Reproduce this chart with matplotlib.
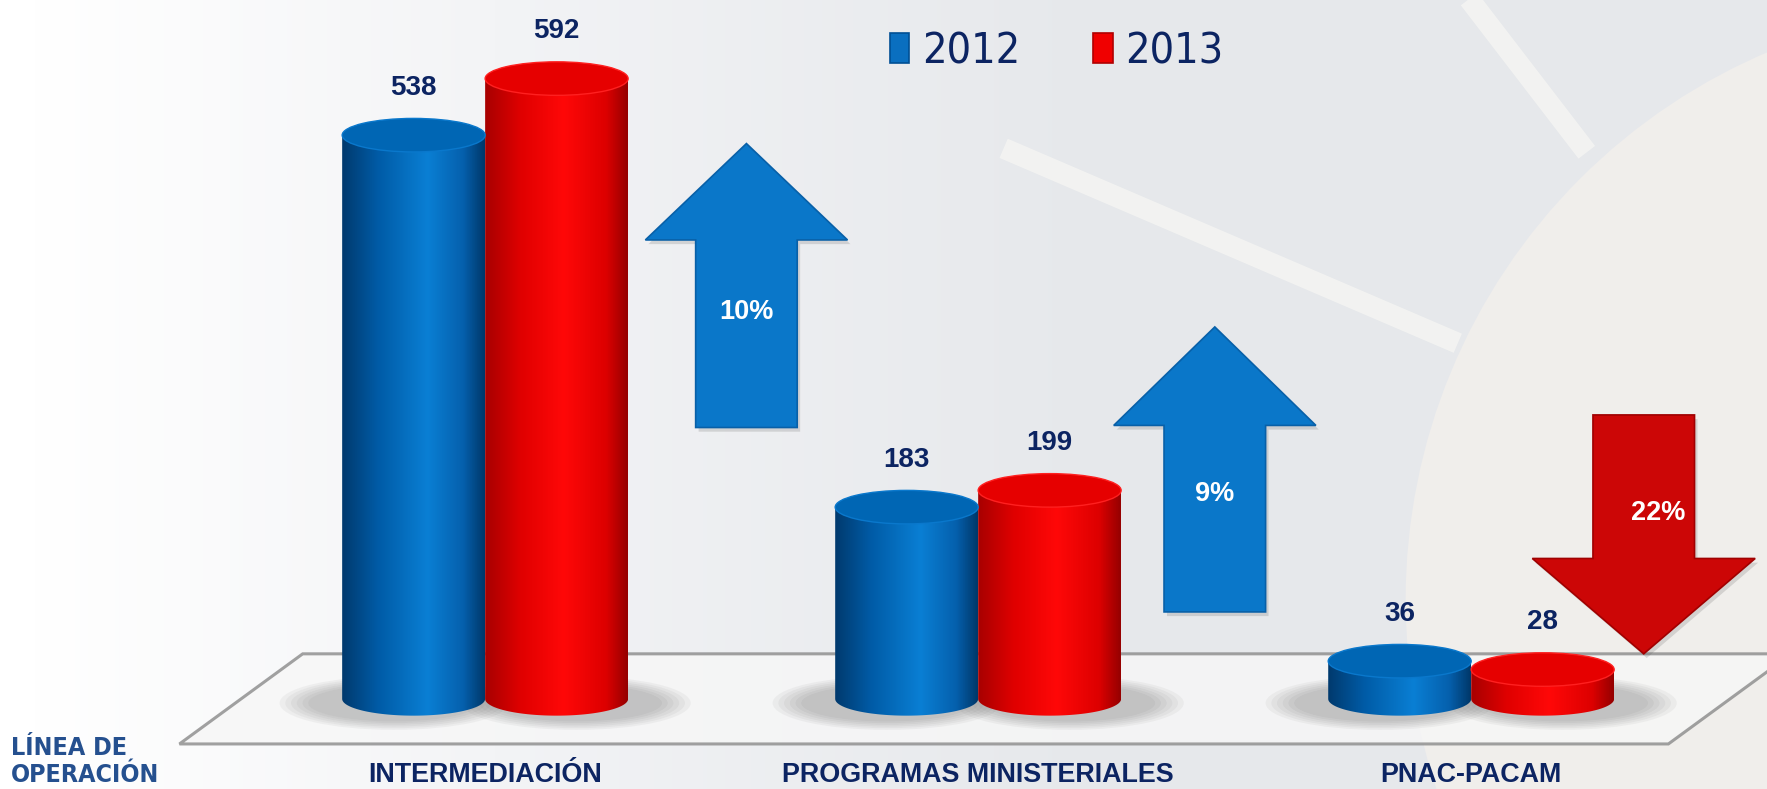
import numpy as np
import matplotlib
matplotlib.use("Agg")
import matplotlib.pyplot as plt
from matplotlib.patches import Polygon, Ellipse, Rectangle
from matplotlib.colors import LinearSegmentedColormap
from matplotlib import font_manager
from matplotlib.font_manager import FontProperties

# data
categories = ["INTERMEDIACIÓN", "PROGRAMAS MINISTERIALES", "PNAC-PACAM"]
years = ["2012", "2013"]
values_2012 = [538, 183, 36]
values_2013 = [592, 199, 28]

NAVY = "#0c2462"
BLUE_ARROW = "#0a77c9"
RED_ARROW = "#cc0606"

plt.rcParams["font.family"] = ["Liberation Sans", "DejaVu Sans"]


def narrow_font(bold, size):
    # look for any condensed / narrow face, else a plain one a bit smaller
    cands = [f for f in font_manager.fontManager.ttflist
             if ("Narrow" in f.name or "Condensed" in f.name
                 or f.stretch in ("condensed", "semi-condensed", "extra-condensed"))
             and f.style == "normal"]
    wanted = [f for f in cands if (f.weight in ("bold", 700, "700")) == bold]
    if wanted:
        return FontProperties(fname=wanted[0].fname, size=size)
    if cands:
        return FontProperties(fname=cands[0].fname, size=size)
    return FontProperties(family="Liberation Sans", weight="bold" if bold else "normal",
                          size=size * 0.85)


blue_cmap = LinearSegmentedColormap.from_list(
    "b", [(0, "#003a6e"), (0.25, "#005ba6"), (0.6, "#0a7fd4"), (0.85, "#0560ad"), (1, "#00386a")])
red_cmap = LinearSegmentedColormap.from_list(
    "r", [(0, "#a80000"), (0.25, "#e00000"), (0.55, "#ff0808"), (0.85, "#dd0000"), (1, "#960000")])

fig = plt.figure(figsize=(17.67, 7.89), dpi=100)

# background
bg = fig.add_axes([0, 0, 1, 1], zorder=0)
gx = np.linspace(0, 1, 400)
white = np.array([1.0, 1.0, 1.0])
light = np.array([0.94, 0.945, 0.955])
grey = np.array([0.905, 0.913, 0.925])
img = np.ones((10, 400, 3))
for j, v in enumerate(gx):
    if v < 0.35:
        a = np.clip((v - 0.02) / 0.33, 0, 1)
        col = white * (1 - a) + light * a
    else:
        a = np.clip((v - 0.35) / 0.25, 0, 1)
        col = light * (1 - a) + grey * a
    img[:, j, :] = col
bg.imshow(img, extent=(0, 1, 0, 1), aspect="auto")
bg.add_patch(Ellipse((1.132, 0.240), 0.673, 1.508, facecolor="#f0eeeb", edgecolor="none"))
bg.plot([0.568, 0.825], [0.812, 0.565], color="#f4f4f2", lw=15, alpha=0.9,
        solid_capstyle="butt")
bg.plot([0.825, 0.898], [1.02, 0.807], color="#f4f4f2", lw=15, alpha=0.9,
        solid_capstyle="butt")
bg.set_xlim(0, 1)
bg.set_ylim(0, 1)
bg.axis("off")

ax = fig.add_axes([0, 0, 1, 1], zorder=1)
ax.patch.set_alpha(0)
ax.axis("off")

x = np.arange(len(categories))
w = 0.29
eh = 32

# floor
floor = Polygon([(-0.62, -43), (2.40, -43), (2.65, 43), (-0.37, 43)], closed=True,
                facecolor="#f7f7f7", edgecolor="#8a8a8a", lw=2.2, alpha=0.8, zorder=1)
ax.add_patch(floor)


def cylinder(xc, h, cmap, top_color, top_edge, shadow_dx):
    xl, xr = xc - w / 2, xc + w / 2
    # soft shadow on the floor
    for k in range(6):
        ax.add_patch(Ellipse((xc + shadow_dx, -4), w * (1.2 + 0.08 * k), eh * (1.1 + 0.1 * k),
                             facecolor="#505050", edgecolor="none", alpha=0.055, zorder=2))
    t = np.linspace(np.pi, 2 * np.pi, 80)
    verts = [(xl, h), (xl, 0)]
    verts += list(zip(xc + w / 2 * np.cos(t), eh / 2 * np.sin(t)))
    verts += [(xr, 0), (xr, h)]
    body = Polygon(verts, closed=True, facecolor="none", edgecolor="none", zorder=3)
    ax.add_patch(body)
    gimg = np.linspace(0, 1, 200).reshape(1, -1)
    im = ax.imshow(gimg, extent=(xl, xr, -eh / 2, h), aspect="auto", cmap=cmap, zorder=3)
    im.set_clip_path(body)
    ax.add_patch(Ellipse((xc, h), w, eh, facecolor=top_color, edgecolor=top_edge, lw=1, zorder=4))


for i in range(len(categories)):
    cylinder(x[i] - w / 2, values_2012[i], blue_cmap, "#0066b4", "#0a78cc", -0.04)
    cylinder(x[i] + w / 2, values_2013[i], red_cmap, "#e60000", "#ff2020", 0.04)
    for off, v in [(-w / 2, values_2012[i]), (w / 2, values_2013[i])]:
        ax.annotate(str(v), (x[i] + off, v + eh / 2), xytext=(0, 22), textcoords="offset points",
                    ha="center", va="center", fontsize=20, fontweight="bold", color=NAVY, zorder=6)
    ax.text(x[i], -85.5, categories[i], ha="center", va="bottom", fontsize=19.4,
            fontweight="bold", color=NAVY, zorder=6)

fp_side = narrow_font(True, 18)
ax.text(-0.962, -60, "LÍNEA DE\nOPERACIÓN", ha="left", va="center", fontproperties=fp_side,
        color="#25508f", linespacing=1.15, zorder=6)

# change arrows (layout: x offset from category, base, head start, tip, label y)
arrow_layout = [
    (0.53, 259, 438, 530, 369),
    (0.48, 83, 261, 355, 196),
    (0.35, 271, 134, 43, 177),
]
for i in range(len(categories)):
    pct = (values_2013[i] - values_2012[i]) / values_2012[i] * 100
    dx, y0, yh, ytip, ylab = arrow_layout[i]
    xc = x[i] + dx
    sw, hw = 0.103, 0.205 if pct > 0 else 0.226
    color = BLUE_ARROW if pct > 0 else RED_ARROW
    edge = "#0860a8" if pct > 0 else "#a00000"
    poly = [(xc - sw, y0), (xc + sw, y0), (xc + sw, yh), (xc + hw, yh), (xc, ytip),
            (xc - hw, yh), (xc - sw, yh)]
    shadow = [(px + 0.006, py - 4) for px, py in poly]
    ax.add_patch(Polygon(shadow, closed=True, facecolor="#505050", alpha=0.18,
                         edgecolor="none", zorder=4))
    ax.add_patch(Polygon(poly, closed=True, facecolor=color, edgecolor=edge, lw=1.2, zorder=5))
    ax.text(xc + (0.03 if pct < 0 else 0), ylab, f"{abs(round(pct))}%", ha="center",
            va="center", fontsize=19.5, fontweight="bold", color="white", zorder=6)

ax.set_xlim(-0.984, 2.600)
ax.set_ylim(-86, 667)

# legend
fp_leg = narrow_font(False, 31)
handles = [Rectangle((0, 0), 1, 1, facecolor="#0a6fc0", edgecolor="#004f94", lw=1.2),
           Rectangle((0, 0), 1, 1, facecolor="#f00000", edgecolor="#b00000", lw=1.2)]
leg = fig.legend(handles, years, loc="center", bbox_to_anchor=(0.598, 0.935), ncol=2,
                 frameon=False, handlelength=0.45, handleheight=0.68, handletextpad=0.3,
                 columnspacing=1.7, borderpad=0, prop=fp_leg)
for t in leg.get_texts():
    t.set_color(NAVY)

fig.savefig("out.png", dpi=100)
